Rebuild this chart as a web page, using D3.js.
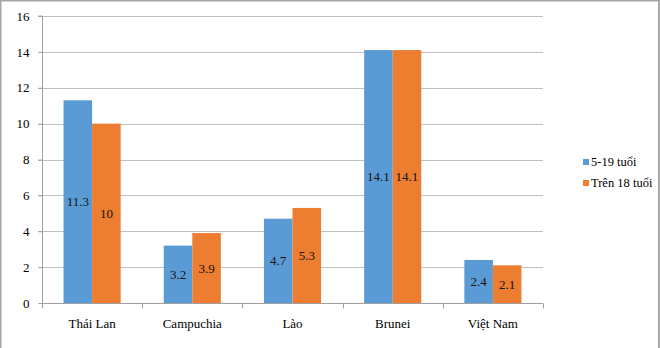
<!DOCTYPE html>
<html><head><meta charset="utf-8">
<script src="https://cdn.jsdelivr.net/npm/d3@7"></script>
<style>
html,body{margin:0;padding:0;background:#fff;}
svg{display:block;}
svg text{font-family:"Liberation Serif","Times New Roman","Liberation Sans",Arial,sans-serif;}
</style></head>
<body>
<svg id="c" width="660" height="348"></svg>
<script>
const categories = ["Thái Lan","Campuchia","Lào","Brunei","Việt Nam"];
const seriesNames = ["5-19 tuổi","Trên 18 tuổi"];
const series1 = [11.3, 3.2, 4.7, 14.1, 2.4];
const series2 = [10, 3.9, 5.3, 14.1, 2.1];
const yTicks = [0,2,4,6,8,10,12,14,16];
const colors = ["#5B9BD5","#ED7D31"];

const svg = d3.select("#c");
const m = {left:42, right:543, top:16, bottom:303};

// border
svg.append("path").attr("d","M0.5,348 V0.5 H659 V348").attr("fill","none").attr("stroke","#a6a6a6").attr("stroke-width",2);

const x = d3.scaleBand().domain(categories).range([m.left,m.right]).paddingInner(0.43).paddingOuter(0.215);
const x0 = d3.scaleBand().domain(categories).range([m.left,m.right]);
const xs = d3.scaleBand().domain([0,1]).range([0,x.bandwidth()]);
const y = d3.scaleLinear().domain([0,16]).range([m.bottom,m.top]);

// grid
svg.append("g").selectAll("line").data(yTicks.filter(t=>t>0)).join("line")
  .attr("x1",m.left-4).attr("x2",m.right).attr("y1",d=>Math.round(y(d))+0.5).attr("y2",d=>Math.round(y(d))+0.5)
  .attr("stroke","#c0c0c0").attr("stroke-width",1);

// y axis
const ya = svg.append("g").attr("transform",`translate(${m.left+0.5},0)`)
  .call(d3.axisLeft(y).tickValues(yTicks).tickSize(4).tickPadding(9).tickFormat(d3.format("d")));
ya.attr("font-family",null);
ya.select(".domain").attr("stroke","#a0a0a0").attr("d",`M-4,${m.top}H0V${m.bottom}`);
ya.selectAll(".tick line").attr("stroke","#a0a0a0");
ya.selectAll(".tick text").attr("font-size",13).attr("fill","#000");

// bars
const data = [series1, series2];
const g = svg.append("g");
categories.forEach((c,i)=>{
  data.forEach((s,j)=>{
    g.append("rect").attr("x",x(c)+xs(j)).attr("y",y(s[i])).attr("width",xs.bandwidth()).attr("height",y(0)-y(s[i])).attr("fill",colors[j]);
    g.append("text").attr("x",x(c)+xs(j)+xs.bandwidth()/2).attr("y",(y(s[i])+y(0))/2).attr("dy","0.35em")
      .attr("text-anchor","middle").attr("font-size",13).attr("fill","#111").text(s[i]);
  });
});

// x axis
const xa = svg.append("g").attr("transform",`translate(0,${m.bottom+0.5})`);
xa.append("line").attr("x1",m.left).attr("x2",m.right).attr("stroke","#a0a0a0");
const bounds = categories.map(c=>x0(c)).concat([m.right]);
xa.selectAll("line.t").data(bounds).join("line").attr("class","t")
  .attr("x1",d=>Math.round(d)+0.5).attr("x2",d=>Math.round(d)+0.5).attr("y1",0).attr("y2",5).attr("stroke","#a0a0a0");
xa.selectAll("text").data(categories).join("text")
  .attr("x",d=>x0(d)+x0.bandwidth()/2).attr("y",24).attr("text-anchor","middle")
  .attr("font-size",13).attr("fill","#000").text(d=>d);

// legend
const lg = svg.append("g");
seriesNames.forEach((n,j)=>{
  const yy = 162 + j*21;
  lg.append("rect").attr("x",583).attr("y",yy-3).attr("width",6).attr("height",6).attr("fill",colors[j]);
  lg.append("text").attr("x",591).attr("y",yy).attr("dy","0.35em").attr("font-size",12.5).attr("fill","#000").text(n);
});
</script>
</body></html>
